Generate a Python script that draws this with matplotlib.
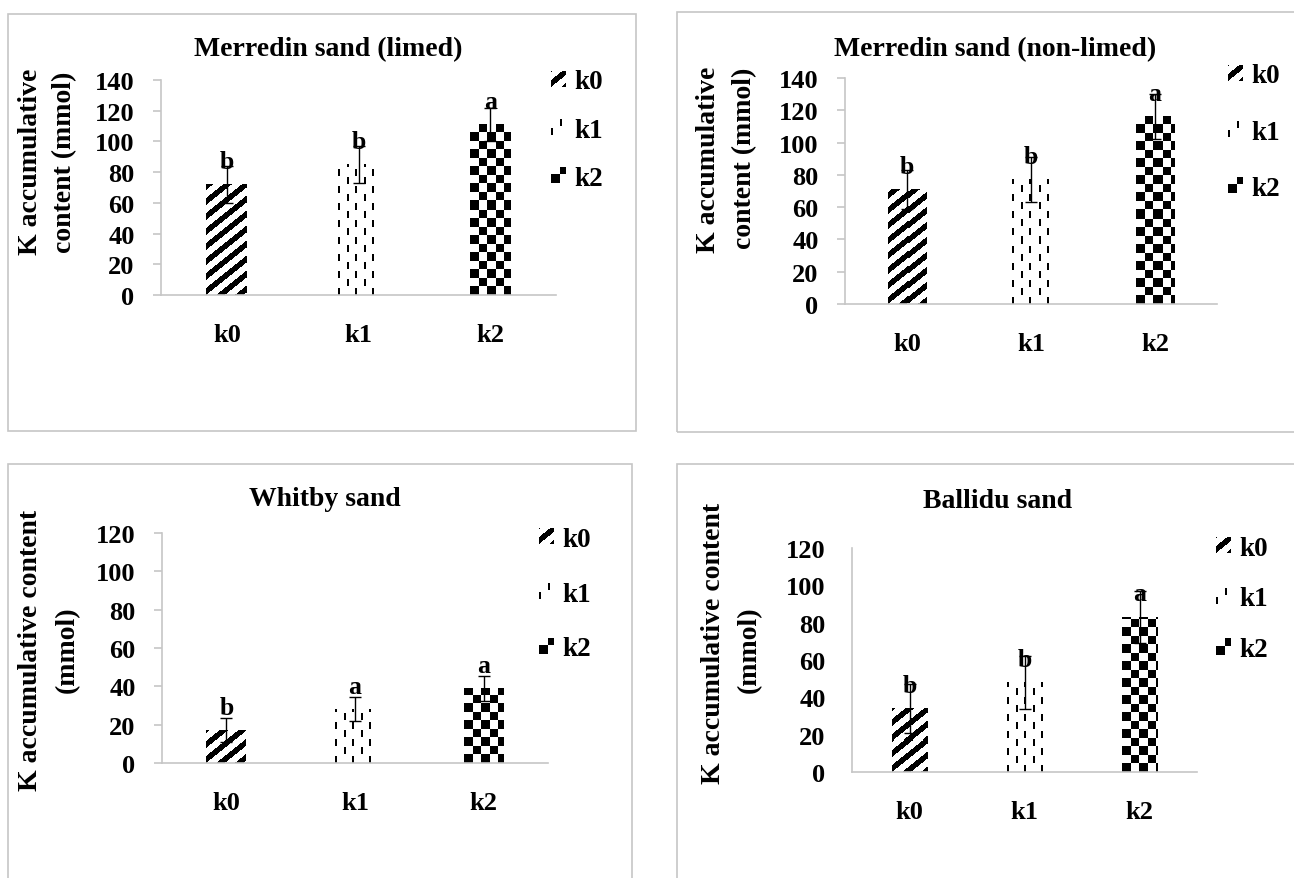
import numpy as np
import matplotlib
matplotlib.use("Agg")
import matplotlib.pyplot as plt
from matplotlib.patches import Rectangle, Patch
from matplotlib.legend_handler import HandlerBase

# ==============================
# Data
# ==============================

categories = ["k0", "k1", "k2"]
patterns = ["diag", "dash", "checker"]

titles = ["Merredin sand (limed)", "Merredin sand (non-limed)",
          "Whitby sand", "Ballidu sand"]

ylabels = [["K accumulative", "content (mmol)"],
           ["K accumulative", "content (mmol)"],
           ["K accumulative content", "(mmol)"],
           ["K accumulative content", "(mmol)"]]

merredin_limed = [72, 85, 111]
merredin_limed_err = [12, 12, 11]
merredin_limed_sig = ["b", "b", "a"]

merredin_nonlimed = [71, 77, 116]
merredin_nonlimed_err = [12, 14, 14]
merredin_nonlimed_sig = ["b", "b", "a"]

whitby = [17, 28, 39]
whitby_err = [6.3, 6.3, 6.4]
whitby_sig = ["b", "a", "a"]

ballidu = [34, 48, 83]
ballidu_err = [13, 14, 14]
ballidu_sig = ["b", "b", "a"]

values = [merredin_limed, merredin_nonlimed, whitby, ballidu]
errors = [merredin_limed_err, merredin_nonlimed_err, whitby_err, ballidu_err]
letters = [merredin_limed_sig, merredin_nonlimed_sig, whitby_sig, ballidu_sig]
ymax = [140, 140, 120, 120]

# ==============================
# Layout (pixels, top-left origin)
# ==============================

W, H = 1294, 879
layout = [
    dict(border=(8, 15, 636, 432), axes=(161, 81, 556, 296), title=(328, 50),
         ylab=[(31, 162), (65, 162)], legend=(551, 131), spacing=0.85, ticks=True),
    dict(border=(677, 13, 1300, 433), axes=(845, 79, 1217, 305), title=(995, 50),
         ylab=[(708, 160), (745, 158)], legend=(1228, 133), spacing=1.15, ticks=True),
    dict(border=(8, 465, 632, 890), axes=(162, 534, 548, 764), title=(325, 500),
         ylab=[(31, 650), (67, 650)], legend=(539, 595), spacing=1.1, ticks=True),
    dict(border=(677, 465, 1300, 890), axes=(852, 549, 1197, 773), title=(998, 502),
         ylab=[(713, 643), (749, 650)], legend=(1216, 600), spacing=0.95, ticks=False),
]

plt.rcParams["font.family"] = ["Liberation Serif", "DejaVu Serif"]
plt.rcParams["font.weight"] = "bold"

GRAY = "#C6C6C6"


def fx(x):
    return x / W


def fy(y):
    return 1 - y / H


def pattern_mask(kind, ny, nx):
    i, j = np.mgrid[0:ny, 0:nx]
    if kind == "diag":
        return ((i - 0.8 * j) % 15) < 7
    if kind == "dash":
        col = np.floor(j / 8.5)
        on_col = (j - col * 8.5) < 2.0
        phase = (col % 2) * 8.5
        return on_col & (((i + phase) % 17) < 7)
    return ((np.floor(i / 8.5) + np.floor(j / 8.5)) % 2) == 0


class PatternHandler(HandlerBase):
    def create_artists(self, legend, orig_handle, xdescent, ydescent,
                       width, height, fontsize, trans):
        scale = legend.figure.dpi / 72
        nx = max(1, int(round(width * scale)))
        ny = max(1, int(round(height * scale)))
        on = pattern_mask(orig_handle.get_gid(), ny, nx)
        pw, ph = width / nx, height / ny
        arts = []
        for i, j in zip(*np.nonzero(on)):
            arts.append(Rectangle((-xdescent + j * pw, -ydescent + i * ph), pw, ph,
                                  facecolor="black", edgecolor="none", lw=0,
                                  antialiased=False, transform=trans))
        return arts


fig = plt.figure(figsize=(W / 100, H / 100), dpi=100)

for k in range(4):
    lay = layout[k]

    # chart border
    bx0, by0, bx1, by1 = lay["border"]
    fig.add_artist(Rectangle((fx(bx0), fy(by1)), fx(bx1) - fx(bx0), fy(by0) - fy(by1),
                             transform=fig.transFigure, fill=False,
                             edgecolor=GRAY, lw=1.2))

    ax0, ay0, ax1, ay1 = lay["axes"]
    ax = fig.add_axes([fx(ax0), fy(ay1), fx(ax1) - fx(ax0), fy(ay0) - fy(ay1)])
    ax.set_xlim(-0.5, 2.5)
    ax.set_ylim(0, ymax[k])

    x = np.arange(len(categories))
    bars = ax.bar(x, values[k], width=0.31, color="none", edgecolor="none")

    # pattern fill of each bar
    for rect, kind in zip(bars, patterns):
        x0, w, h = rect.get_x(), rect.get_width(), rect.get_height()
        p0 = ax.transData.transform((x0, 0))
        p1 = ax.transData.transform((x0 + w, h))
        nx = int(round(p1[0] - p0[0]))
        ny = int(round(p1[1] - p0[1]))
        on = pattern_mask(kind, ny, nx)
        rgba = np.zeros((ny, nx, 4))
        rgba[..., 3] = on
        ax.imshow(rgba, extent=(x0, x0 + w, 0, h), origin="lower",
                  aspect="auto", interpolation="nearest", zorder=2)

    ax.errorbar(x, values[k], yerr=errors[k], fmt="none", ecolor="black",
                elinewidth=1, capsize=4, capthick=1, zorder=3)

    for xi, v, s in zip(x, values[k], letters[k]):
        ax.annotate(s, (xi, v), xytext=(0, 12), textcoords="offset points",
                    ha="center", va="baseline", fontsize=18.5, zorder=4)

    ax.set_xlim(-0.5, 2.5)
    ax.set_ylim(0, ymax[k])
    ax.set_xticks(x)
    ax.set_xticklabels(categories)
    ax.set_yticks(np.arange(0, ymax[k] + 1, 20))

    for side in ["top", "right"]:
        ax.spines[side].set_visible(False)
    for side in ["left", "bottom"]:
        ax.spines[side].set_color(GRAY)
        ax.spines[side].set_linewidth(1.2)

    ax.tick_params(axis="x", length=0, pad=20, labelsize=19)
    if lay["ticks"]:
        ax.tick_params(axis="y", direction="out", length=6, width=1.2,
                       color=GRAY, pad=13, labelsize=19)
    else:
        ax.tick_params(axis="y", length=0, pad=19, labelsize=19)

    # title and y label
    tx, ty = lay["title"]
    fig.text(fx(tx), fy(ty), titles[k], ha="center", va="center", fontsize=20)
    for (lx, ly), line in zip(lay["ylab"], ylabels[k]):
        fig.text(fx(lx), fy(ly), line, ha="center", va="center",
                 rotation=90, fontsize=20)

    # legend
    gx, gy = lay["legend"]
    handles = [Patch(gid=p, label=c) for p, c in zip(patterns, categories)]
    fig.legend(handles=handles, loc="center left",
               bbox_to_anchor=(fx(gx), fy(gy)), frameon=False,
               handler_map={Patch: PatternHandler()},
               fontsize=19.5, handlelength=0.55, handleheight=0.55,
               handletextpad=0.3, labelspacing=lay["spacing"], borderpad=0,
               borderaxespad=0)

fig.savefig("out.png", dpi=100)
